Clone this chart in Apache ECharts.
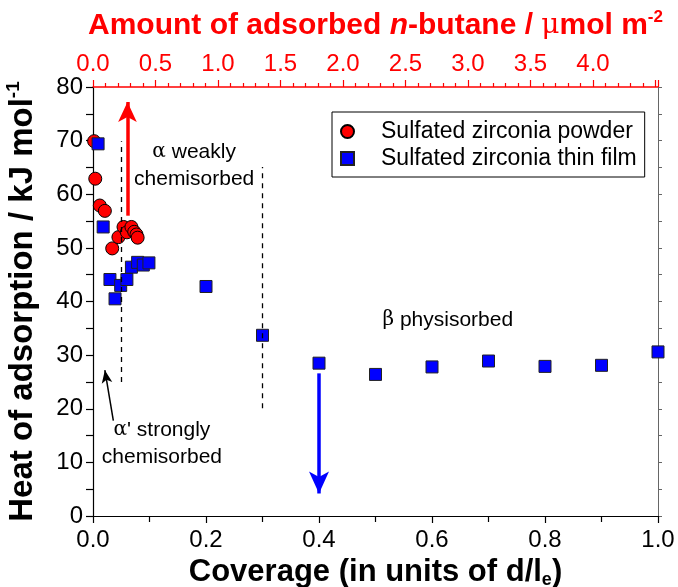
<!DOCTYPE html>
<html>
<head>
    <meta charset="UTF-8">
    <title>Heat of adsorption</title>
    <script src="https://cdn.jsdelivr.net/npm/echarts@6/dist/echarts.min.js"></script>
    <style>
        html, body {margin: 0; padding: 0; background: #fff;}
        #main {width: 678px; height: 587px;}
    </style>
</head>
<body>
<div id="main"></div>
<script type="text/javascript">
    // 粉末样品
    var powderX = [0.002, 0.004, 0.012, 0.021, 0.034, 0.045, 0.054, 0.060, 0.068, 0.073, 0.077, 0.079];
    var powderY = [69.9, 62.9, 57.9, 56.9, 49.9, 52.0, 53.9, 52.9, 53.9, 53.0, 52.5, 51.9];
    // 薄膜样品
    var filmX = [0.009, 0.018, 0.030, 0.039, 0.049, 0.060, 0.068, 0.079, 0.089, 0.099, 0.2, 0.3, 0.4, 0.5, 0.6, 0.7, 0.8, 0.9, 1.0];
    var filmY = [69.4, 53.9, 44.1, 40.5, 43.0, 44.1, 46.4, 47.3, 46.8, 47.2, 42.8, 33.7, 28.5, 26.4, 27.8, 28.9, 27.9, 28.1, 30.6];

    var bottomTicks = [0, 1.0, 0.2];      // min, max, interval
    var topTicks = [0, 4.52, 0.5];        // amount of n-butane, linked to coverage 0..1
    var leftTicks = [0, 80, 10];

    // 虚线分界
    var dashX = [0.05, 0.3];
    var dashFrom = [25.0, 20.1];
    var dashTo = [69.9, 65.1];

    // 箭头 [x0, y0, x1, y1]
    var redArrow = [0.061, 56.0, 0.061, 77.2];
    var blueArrow = [0.4, 26.6, 0.4, 4.2];
    var blackArrow = [0.036, 17.8, 0.021, 27.2];

    // 文字注释
    var noteX = [0.179, 0.122, 0.628];
    var noteY = [65.4, 13.5, 36.5];
    var noteText = [
        '{g|α} weakly\nchemisorbed',
        '{g|α}\' strongly\nchemisorbed',
        '{g|β} physisorbed'
    ];

    function pairs(xs, ys) {
        var out = [];
        for (var i = 0; i < xs.length; i++) out.push([xs[i], ys[i]]);
        return out;
    }

    var font = 'Liberation Sans, Arial, sans-serif';

    var myChart = echarts.init(document.getElementById('main'));

    var marks = [];
    for (var i = 0; i < dashX.length; i++) {
        marks.push([{coord: [dashX[i], dashFrom[i]], symbol: 'none'}, {coord: [dashX[i], dashTo[i]], symbol: 'none'}]);
    }

    function arrow(a, color, width, head) {
        return [{coord: [a[0], a[1]], symbol: 'none', lineStyle: {color: color, width: width, type: 'solid'}},
            {coord: [a[2], a[3]], symbol: 'arrow', symbolSize: head}];
    }
    marks.push(arrow(redArrow, '#ff0000', 3.5, [14, 20]));
    marks.push(arrow(blueArrow, '#0000ff', 3.5, [15, 22]));
    marks.push(arrow(blackArrow, '#000', 1.5, [8, 13]));

    var notes = [];
    for (var k = 0; k < noteX.length; k++) {
        notes.push({value: [noteX[k], noteY[k]], label: {formatter: noteText[k]}});
    }

    myChart.setOption({
        animation: false,
        grid: {left: 93, right: 20, top: 87, bottom: 71, containLabel: false, outerBoundsMode: 'none'},
        legend: {
            data: [
                {name: 'Sulfated zirconia powder', icon: 'circle'},
                {name: 'Sulfated zirconia thin film', icon: 'rect'}
            ],
            orient: 'vertical',
            left: 332,
            top: 112,
            borderColor: '#000',
            borderWidth: 1,
            padding: [8, 8, 7, 8],
            itemGap: 4,
            itemWidth: 13,
            itemHeight: 13,
            textStyle: {fontFamily: font, fontSize: 23, color: '#000', padding: [0, 0, 0, 22]}
        },
        xAxis: [{
            type: 'value',
            min: bottomTicks[0], max: bottomTicks[1], interval: bottomTicks[2],
            position: 'bottom',
            name: '{b|Coverage (in units of d/l}{sub|e}{b|)}',
            nameLocation: 'middle',
            nameGap: 38,
            nameTextStyle: {
                rich: {
                    b: {fontFamily: font, fontWeight: 'bold', fontSize: 31, color: '#000'},
                    sub: {fontFamily: font, fontWeight: 'bold', fontSize: 18, color: '#000', verticalAlign: 'bottom', padding: [16, 0, 0, 0]}
                }
            },
            axisLine: {show: true, onZero: false, lineStyle: {color: '#000', width: 1.2}},
            axisTick: {show: true, inside: false, length: 7, lineStyle: {color: '#000', width: 1.2}},
            minorTick: {show: true, splitNumber: 2, length: 6, lineStyle: {color: '#000', width: 1.2}},
            axisLabel: {formatter: function (v) { return v.toFixed(1); }, fontFamily: font, fontSize: 24, color: '#000', margin: 12},
            splitLine: {show: false},
            minorSplitLine: {show: false}
        }, {
            type: 'value',
            min: topTicks[0], max: topTicks[1], interval: topTicks[2],
            position: 'top',
            name: '{b|Amount of adsorbed }{i|n}{b|-butane / }{g|μ}{b|mol m}{sup|-2}',
            nameLocation: 'middle',
            nameGap: 45,
            nameTextStyle: {
                rich: {
                    b: {fontFamily: font, fontWeight: 'bold', fontSize: 30, color: '#ff0000'},
                    i: {fontFamily: font, fontWeight: 'bold', fontStyle: 'italic', fontSize: 30, color: '#ff0000'},
                    g: {fontFamily: 'DejaVu Serif, serif', fontSize: 28, color: '#ff0000'},
                    sup: {fontFamily: font, fontWeight: 'bold', fontSize: 17, color: '#ff0000', verticalAlign: 'top', padding: [0, 0, 16, 0]}
                }
            },
            axisLine: {show: true, onZero: false, lineStyle: {color: '#ff0000', width: 1.5}},
            axisTick: {show: true, inside: false, length: 7, lineStyle: {color: '#ff0000', width: 1.2}},
            minorTick: {show: true, splitNumber: 5, length: 4, lineStyle: {color: '#ff0000', width: 1.2}},
            axisLabel: {
                formatter: function (v) { return v > 4.2 ? '' : v.toFixed(1); },
                fontFamily: font, fontSize: 24, color: '#ff0000', margin: 11
            },
            splitLine: {show: false},
            minorSplitLine: {show: false}
        }],
        yAxis: [{
            type: 'value',
            min: leftTicks[0], max: leftTicks[1], interval: leftTicks[2],
            position: 'left',
            name: '{b|Heat of adsorption / kJ mol}{sup|-1}',
            nameLocation: 'middle',
            nameRotate: 90,
            nameGap: 52,
            nameTextStyle: {
                rich: {
                    b: {fontFamily: font, fontWeight: 'bold', fontSize: 33, color: '#000'},
                    sup: {fontFamily: font, fontWeight: 'bold', fontSize: 19, color: '#000', verticalAlign: 'top', padding: [0, 0, 18, 0]}
                }
            },
            axisLine: {show: true, onZero: false, lineStyle: {color: '#000', width: 1.2}},
            axisTick: {show: true, inside: false, length: 7, lineStyle: {color: '#000', width: 1.2}},
            minorTick: {show: true, splitNumber: 2, length: 7, lineStyle: {color: '#000', width: 1.2}},
            axisLabel: {fontFamily: font, fontSize: 24, color: '#000', margin: 10},
            splitLine: {show: false},
            minorSplitLine: {show: false}
        }, {
            type: 'value',
            min: leftTicks[0], max: leftTicks[1], interval: leftTicks[2],
            position: 'right',
            axisLine: {show: true, onZero: false, lineStyle: {color: '#666', width: 1}},
            axisTick: {show: true, inside: false, length: 4, lineStyle: {color: '#666', width: 1}},
            minorTick: {show: true, splitNumber: 2, length: 4, lineStyle: {color: '#666', width: 1}},
            axisLabel: {show: false},
            splitLine: {show: false},
            minorSplitLine: {show: false}
        }],
        series: [{
            name: 'Sulfated zirconia powder',
            type: 'scatter',
            symbol: 'circle',
            symbolSize: 13,
            itemStyle: {color: '#ff0000', borderColor: '#000', borderWidth: 1, opacity: 1},
            data: pairs(powderX, powderY),
            z: 3
        }, {
            name: 'Sulfated zirconia thin film',
            type: 'scatter',
            symbol: 'rect',
            symbolSize: 12,
            itemStyle: {color: '#0000ff', borderColor: '#222', borderWidth: 1, opacity: 1},
            data: pairs(filmX, filmY),
            z: 4,
            markLine: {
                silent: true,
                label: {show: false},
                emphasis: {disabled: true},
                lineStyle: {color: '#000', width: 1.3, type: [5, 5], opacity: 1},
                data: marks
            }
        }, {
            name: 'notes',
            type: 'scatter',
            symbolSize: 0,
            silent: true,
            itemStyle: {opacity: 1},
            data: notes,
            label: {
                show: true,
                position: 'inside',
                align: 'center',
                verticalAlign: 'middle',
                fontFamily: font,
                fontSize: 21,
                lineHeight: 27,
                color: '#000',
                rich: {
                    g: {fontFamily: 'DejaVu Serif, serif', fontSize: 20, color: '#000', lineHeight: 27}
                }
            }
        }]
    });
</script>
</body>
</html>
